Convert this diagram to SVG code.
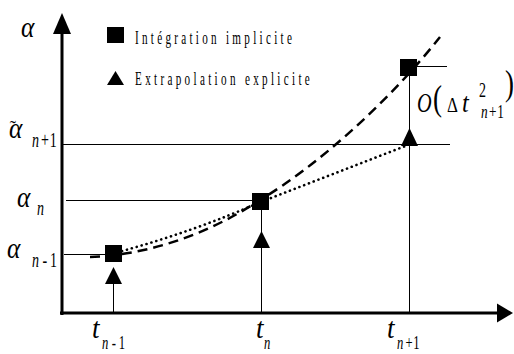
<svg xmlns="http://www.w3.org/2000/svg" width="514" height="354" viewBox="0 0 514 354">
<style>
.lbl{font-family:"Liberation Serif","Times New Roman",serif;font-style:italic;fill:#000}
.leg{font-family:"Liberation Serif","Times New Roman",serif;fill:#000}
.thin{stroke:#000;stroke-width:1;fill:none}
.axis{stroke:#000;stroke-width:3;fill:none}
.sq{fill:#000}
.tri{fill:#000}
.dash{stroke:#000;stroke-width:2.5;fill:none;stroke-dasharray:10 6}
.dot{stroke:#000;stroke-width:2.6;fill:none;stroke-dasharray:0.1 5;stroke-linecap:round}
</style>
<rect width="514" height="354" fill="#fff"/>
<g id="connectors">
<line class="axis" x1="62" y1="30" x2="62" y2="315"/>
<polygon points="62,13 53,34 71,34" fill="#000"/>
<line class="axis" x1="60" y1="313" x2="498" y2="313"/>
<polygon points="513,313 497,303.5 497,322.5" fill="#000"/>
<line class="thin" x1="63" y1="144.5" x2="450" y2="144.5"/>
<line class="thin" x1="66" y1="200.5" x2="258" y2="200.5"/>
<line class="thin" x1="64" y1="254.5" x2="112" y2="254.5"/>
<line class="thin" x1="417" y1="66.5" x2="447" y2="66.5"/>
<line class="thin" x1="113.5" y1="284" x2="113.5" y2="313"/>
<line class="thin" x1="261.5" y1="209" x2="261.5" y2="313"/>
<line class="thin" x1="409.5" y1="76" x2="409.5" y2="313"/>
<path class="dash" d="M90,257 C150,255 210,233 260,200 C320,164 390,100 440,37"/>
<path class="dot" d="M122,251 C170,238 220,220 258,203 L408,145"/>
</g>
<g id="node-n-1">
<rect class="sq" x="105" y="245" width="17" height="17"/>
<polygon class="tri" points="113.5,267 105,284 122,284"/>
</g>
<g id="node-n">
<rect class="sq" x="252" y="193" width="17" height="17"/>
<polygon class="tri" points="261.5,231 253,248 270,248"/>
</g>
<g id="node-n+1">
<rect class="sq" x="400" y="59" width="17" height="17"/>
<polygon class="tri" points="409.5,128 401,146 418,146"/>
</g>
<g id="legend">
<rect class="sq" x="107" y="27" width="17" height="16"/>
<text class="leg" transform="translate(135,44) scale(0.62,1)" font-size="18" textLength="253" lengthAdjust="spacing">Intégration implicite</text>
<polygon class="tri" points="115.5,71 107,85 124,85"/>
<text class="leg" transform="translate(135,85) scale(0.62,1)" font-size="18" textLength="282" lengthAdjust="spacing">Extrapolation explicite</text>
</g>
<g id="labels">
<text class="lbl" transform="translate(21,37) scale(0.85,1)" font-size="30">α</text>
<text class="lbl" transform="translate(9,138) scale(0.85,1)" font-size="30">α<tspan class="leg" font-style="normal" font-size="22" dx="-15" dy="-3">˜</tspan></text>
<text class="lbl" transform="translate(32,147) scale(0.7,1)" font-size="20">n<tspan font-style="normal" dx="3">+</tspan><tspan font-style="normal" dx="1">1</tspan></text>
<text class="lbl" transform="translate(17,207) scale(0.85,1)" font-size="30">α</text>
<text class="lbl" transform="translate(37,215) scale(0.7,1)" font-size="20">n</text>
<text class="lbl" transform="translate(7,258) scale(0.85,1)" font-size="30">α</text>
<text class="lbl" transform="translate(32,267) scale(0.7,1)" font-size="20">n<tspan font-style="normal" dx="5">-</tspan><tspan font-style="normal" dx="4">1</tspan></text>
<text class="lbl" transform="translate(92,338) scale(0.9,1)" font-size="30">t</text>
<text class="lbl" transform="translate(102,349) scale(0.7,1)" font-size="18">n<tspan font-style="normal" dx="5">-</tspan><tspan font-style="normal" dx="4">1</tspan></text>
<text class="lbl" transform="translate(256,338) scale(0.9,1)" font-size="30">t</text>
<text class="lbl" transform="translate(264,349) scale(0.7,1)" font-size="18">n</text>
<text class="lbl" transform="translate(387,338) scale(0.9,1)" font-size="30">t</text>
<text class="lbl" transform="translate(397,349) scale(0.7,1)" font-size="18">n<tspan font-style="normal" dx="3">+</tspan><tspan font-style="normal" dx="1">1</tspan></text>
<text class="lbl" transform="translate(417,112) scale(0.75,1)" font-size="27">O</text>
<text class="leg" transform="translate(433,110) scale(0.75,1)" font-size="36">(</text>
<text class="leg" transform="translate(447,112) scale(0.85,1)" font-size="20">Δ</text>
<text class="lbl" transform="translate(462,112) scale(0.9,1)" font-size="27">t</text>
<text class="leg" transform="translate(479,97) scale(0.7,1)" font-size="20">2</text>
<text class="lbl" transform="translate(481,118) scale(0.7,1)" font-size="19">n<tspan font-style="normal" dx="2">+</tspan><tspan font-style="normal" dx="1">1</tspan></text>
<text class="leg" transform="translate(505,95) scale(0.75,1)" font-size="36">)</text>
</g>
</svg>
